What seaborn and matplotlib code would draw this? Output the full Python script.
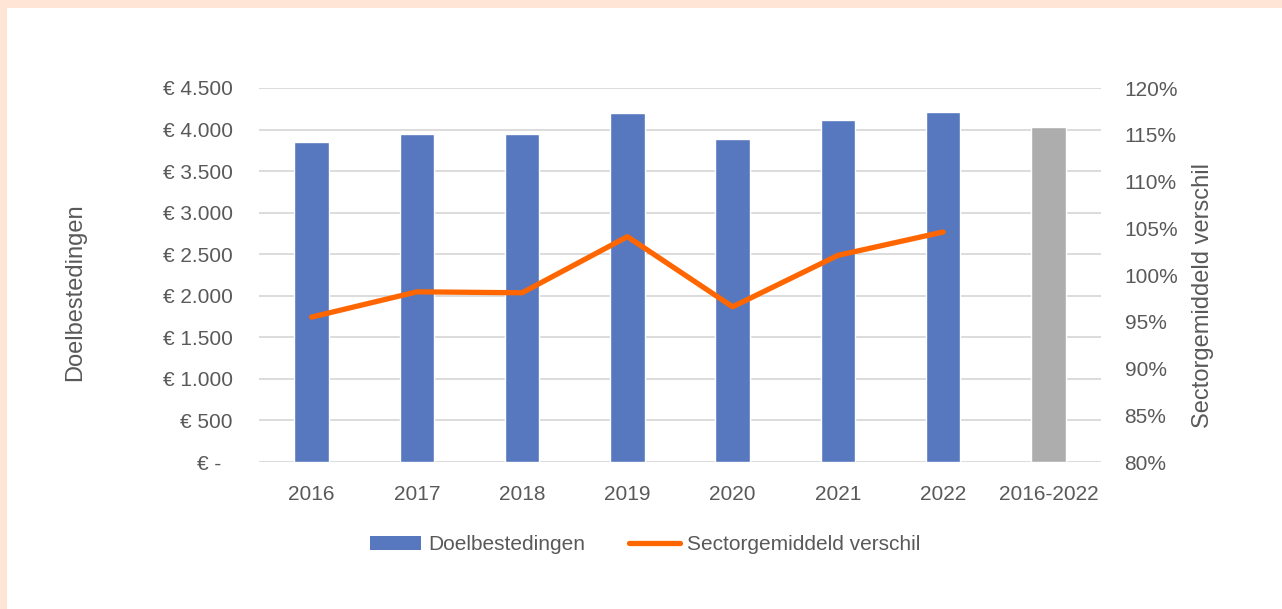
import matplotlib
matplotlib.use("Agg")
import matplotlib.pyplot as plt
import seaborn as sns
import pandas as pd
from matplotlib.patches import Rectangle, Patch
from matplotlib.lines import Line2D

categories = ["2016", "2017", "2018", "2019", "2020", "2021", "2022", "2016-2022"]
doelbestedingen = [3845, 3950, 3950, 4200, 3890, 4115, 4210, 4025]
line_years = ["2016", "2017", "2018", "2019", "2020", "2021", "2022"]
sector_verschil = [0.955, 0.982, 0.981, 1.041, 0.966, 1.021, 1.046]

bar_colors = ["#5778BE"] * 7 + ["#ADADAD"]
orange = "#FF6600"
text_col = "#595959"
grid_col = "#D9D9D9"

sns.set_style("white")
plt.rcParams["font.family"] = ["Liberation Sans", "DejaVu Sans"]

W, H = 1282, 609
fig = plt.figure(figsize=(W / 100, H / 100), dpi=100, facecolor="#FEE5D6")
fig.patches.append(Rectangle((7 / W, 0), 1, 1 - 8 / H, transform=fig.transFigure,
                             facecolor="white", edgecolor="none", zorder=-5))

ax = fig.add_axes([259 / W, 1 - 462 / H, 842 / W, 374 / H])
ax.set_facecolor("none")

bars = pd.DataFrame({"jaar": categories, "waarde": doelbestedingen})
sns.barplot(data=bars, x="jaar", y="waarde", hue="jaar", palette=bar_colors,
            width=0.33, legend=False, saturation=1, ax=ax, zorder=3)

ax.set_ylim(0, 4500)
yt = list(range(0, 4501, 500))
ax.set_yticks(yt)
ax.set_yticklabels(["€ -  " if v == 0 else "€ " + f"{v:,}".replace(",", ".") for v in yt])
ax.yaxis.grid(True, color=grid_col, lw=1.3, zorder=0)
ax.set_axisbelow(True)
for s in ax.spines.values():
    s.set_visible(False)
ax.tick_params(axis="y", length=0, pad=19, labelsize=15, labelcolor=text_col)
ax.tick_params(axis="x", length=0, pad=16.5, labelsize=15, labelcolor=text_col)
ax.set_xlabel("")
ax.set_ylabel("")

ax2 = ax.twinx()
line = pd.DataFrame({"jaar": line_years, "verschil": sector_verschil})
sns.lineplot(data=line, x="jaar", y="verschil", color=orange, lw=3.8,
             solid_capstyle="round", sort=False, ax=ax2)
ax2.set_ylim(0.8, 1.2)
rt = [0.80 + 0.05 * i for i in range(9)]
ax2.set_yticks(rt)
ax2.set_yticklabels([f"{round(v * 100)}%" for v in rt])
ax2.tick_params(axis="y", length=0, pad=17, labelsize=15, labelcolor=text_col)
for s in ax2.spines.values():
    s.set_visible(False)
ax2.set_ylabel("")
ax2.set_xlabel("")
ax.set_xlim(-0.5, len(categories) - 0.5)

fig.text(75 / W, 1 - 292 / H, "Doelbestedingen", rotation=90, ha="center", va="center",
         fontsize=17, color=text_col)
fig.text(1203 / W, 1 - 295 / H, "Sectorgemiddeld verschil", rotation=90, ha="center",
         va="center", fontsize=17, color=text_col)

handles = [Patch(facecolor="#5778BE", edgecolor="none"),
           Line2D([0], [0], color=orange, lw=3.8, solid_capstyle="round")]
fig.legend(handles, ["Doelbestedingen", "Sectorgemiddeld verschil"], loc="center",
           bbox_to_anchor=(645 / W, 1 - 545 / H), ncol=2, frameon=False,
           handlelength=2.45, handleheight=0.63, handletextpad=0.34, columnspacing=2.1,
           prop={"size": 15}, labelcolor=text_col)

fig.savefig("out.png", dpi=100, facecolor=fig.get_facecolor())
